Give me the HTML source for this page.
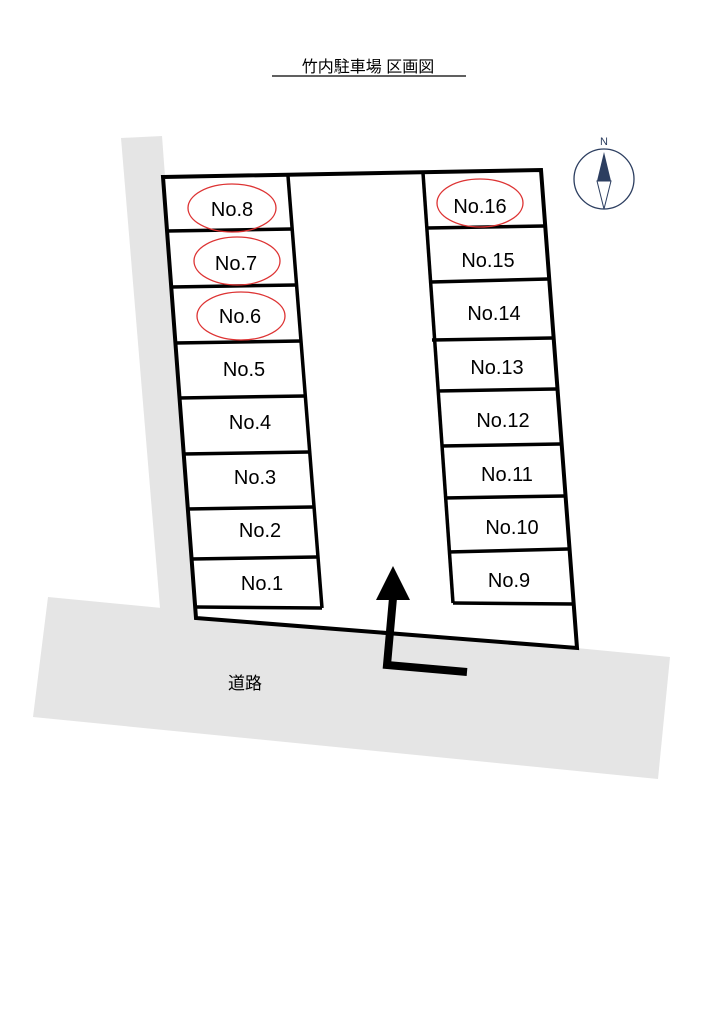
<!DOCTYPE html>
<html><head><meta charset="utf-8"><style>
body{margin:0;background:#fff;}
svg{display:block;}
text{font-family:"Liberation Sans","Noto Sans CJK JP",sans-serif;}
</style></head><body>
<svg width="724" height="1024" viewBox="0 0 724 1024" xmlns="http://www.w3.org/2000/svg">
<rect width="724" height="1024" fill="#fff"/>
<!-- gray areas -->
<polygon points="121,138 162,136 198,620 160,608" fill="#e5e5e5"/>
<polygon points="48,597 670,657 658,779 33,717" fill="#e5e5e5"/>
<!-- lot -->
<polygon points="163,177 541,170 577,648 196,618" fill="#fff" stroke="#000" stroke-width="4" stroke-linejoin="miter"/>
<g stroke="#000" stroke-width="3.5" fill="none">
<line x1="288" y1="176" x2="322" y2="608"/>
<line x1="167" y1="231" x2="292" y2="229"/>
<line x1="171" y1="287" x2="296" y2="285"/>
<line x1="175" y1="343" x2="301" y2="341"/>
<line x1="179" y1="398" x2="305" y2="396"/>
<line x1="183" y1="454" x2="309" y2="452"/>
<line x1="187" y1="509" x2="313" y2="507"/>
<line x1="191" y1="559" x2="317" y2="557"/>
<line x1="195" y1="607" x2="322" y2="608"/>
<line x1="423" y1="173" x2="453" y2="603"/>
<line x1="427" y1="228" x2="544" y2="226"/>
<line x1="431" y1="282" x2="548" y2="279"/>
<line x1="432" y1="340" x2="552" y2="338"/>
<line x1="437" y1="391" x2="556" y2="389"/>
<line x1="441" y1="446" x2="560" y2="444"/>
<line x1="444" y1="498" x2="564" y2="496"/>
<line x1="448" y1="552" x2="568" y2="549"/>
<line x1="453" y1="603" x2="573" y2="604"/>
</g>
<g stroke="#d33" stroke-width="1.3" fill="none">
<ellipse cx="232" cy="208" rx="44" ry="24"/>
<ellipse cx="237" cy="261" rx="43" ry="24"/>
<ellipse cx="241" cy="316" rx="44" ry="24"/>
<ellipse cx="480" cy="203" rx="43" ry="24"/>
</g>
<g font-size="20" fill="#000" text-anchor="middle">
<text x="232" y="216">No.8</text>
<text x="236" y="270">No.7</text>
<text x="240" y="323">No.6</text>
<text x="244" y="376">No.5</text>
<text x="250" y="429">No.4</text>
<text x="255" y="484">No.3</text>
<text x="260" y="537">No.2</text>
<text x="262" y="590">No.1</text>
<text x="480" y="213">No.16</text>
<text x="488" y="267">No.15</text>
<text x="494" y="320">No.14</text>
<text x="497" y="374">No.13</text>
<text x="503" y="427">No.12</text>
<text x="507" y="481">No.11</text>
<text x="512" y="534">No.10</text>
<text x="509" y="587">No.9</text>
</g>
<polyline points="467,672 387,665 393,598" fill="none" stroke="#000" stroke-width="8"/>
<polygon points="393,566 410,600 376,600" fill="#000"/>
<text x="228" y="689" font-size="17">道路</text>
<text x="368" y="72" font-size="16" text-anchor="middle">竹内駐車場  区画図</text>
<line x1="272" y1="76" x2="466" y2="76" stroke="#000" stroke-width="1.2"/>
<circle cx="604" cy="179" r="30" fill="none" stroke="#2c3e60" stroke-width="1.3"/>
<text x="604" y="145" font-size="11" fill="#2c3e60" text-anchor="middle">N</text>
<polygon points="604,152 611,181 597,181" fill="#2c3e60"/>
<polygon points="597,181 611,181 604,209" fill="#fff" stroke="#2c3e60" stroke-width="1"/>
</svg>
</body></html>
